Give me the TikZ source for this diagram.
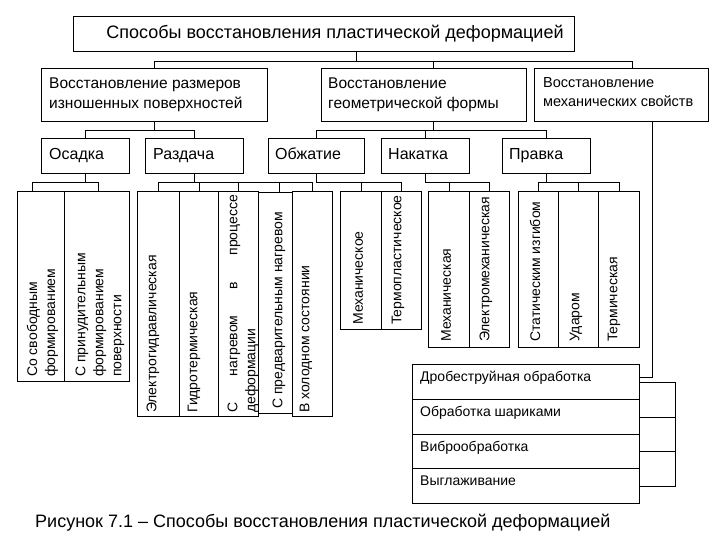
\documentclass[tikz,border=0pt]{standalone}
\usepackage{fontspec}
\setmainfont{Liberation Sans}
\begin{document}
\begin{tikzpicture}[x=1pt,y=-1pt]
\tikzset{
  box/.style={draw, line width=0.9pt, inner sep=0pt, anchor=north west},
  conn/.style={line width=0.9pt},
  htxt/.style={inner sep=0pt, anchor=west, align=left, text depth=0pt, text height=11pt, font=\fontsize{15.5}{20}\selectfont},
  ltxt/.style={inner sep=0pt, anchor=base west, font=\fontsize{16}{19}\selectfont},
  vtxt/.style={inner sep=0pt, anchor=west, rotate=90, align=left, font=\fontsize{14}{18}\selectfont},
  stxt/.style={inner sep=0pt, anchor=base west, font=\fontsize{14}{17}\selectfont},
}
\newcommand\mkbox[5]{\node[box, minimum width={(#4-#2)*1pt}, minimum height={(#5-#3)*1pt}] (#1) at (#2,#3) {};}
\fill[white] (0,0) rectangle (720,540);
\useasboundingbox (0,0) rectangle (720,540);
% boxes
\mkbox{title}{73}{16}{574}{51}
\mkbox{A}{41}{68}{267}{121}
\mkbox{B}{321}{68}{526}{121}
\mkbox{C}{534}{68}{708}{121}
\mkbox{osadka}{41}{138}{129}{173}
\mkbox{razdacha}{145}{138}{243}{173}
\mkbox{obzh}{268}{138}{364}{173}
\mkbox{nakatka}{381}{138}{469}{173}
\mkbox{pravka}{502}{138}{590}{173}
\mkbox{v1}{17}{191}{64}{381}
\mkbox{v2}{64}{191}{129}{381}
\mkbox{v3}{137}{191}{179}{416}
\mkbox{v4}{179}{191}{218}{416}
\mkbox{v5}{218}{191}{258}{416}
\mkbox{v6}{258}{192}{292}{413}
\mkbox{v7}{292}{191}{332}{416}
\mkbox{v8}{340}{191}{381}{329}
\mkbox{v9}{381}{191}{421}{329}
\mkbox{v10}{428}{191}{469}{347}
\mkbox{v11}{469}{191}{509}{347}
\mkbox{v12}{518}{191}{558}{347}
\mkbox{v13}{558}{191}{598}{347}
\mkbox{v14}{598}{191}{639}{347}
\mkbox{d1}{412}{364}{639}{399}
\mkbox{d2}{412}{399}{639}{434}
\mkbox{d3}{412}{434}{639}{468}
\mkbox{d4}{412}{468}{639}{503}
% texts
\node[inner sep=0pt, anchor=base, font=\fontsize{18}{22}\selectfont] (ttitle) at (335,38.3) {Способы восстановления пластической деформацией};
\node[htxt] (tA) at (49,102.8) {Восстановление размеров\\изношенных поверхностей};
\node[htxt] (tB) at (328,102.8) {Восстановление\\геометрической формы};
\node[htxt, text height=10.4pt, font=\fontsize{14.5}{19.5}\selectfont] (tC) at (543,101.5) {Восстановление\\механических свойств};
\node[ltxt] (tos) at (49,159.5) {Осадка};
\node[ltxt] (tra) at (153,159.5) {Раздача};
\node[ltxt] (tob) at (275,159.5) {Обжатие};
\node[ltxt] (tna) at (388,159.5) {Накатка};
\node[ltxt] (tpr) at (509,159.5) {Правка};
\node[vtxt] (tv1) at (42.5,377) {Со свободным\\формированием};
\node[vtxt] (tv2) at (100,377) {С принудительным\\формированием\\поверхности};
\node[vtxt] (tv3) at (153,413) {Электрогидравлическая};
\node[vtxt] (tv4) at (194,413) {Гидротермическая};
\node[vtxt] (tv5) at (243,413) {\makebox[218pt][s]{С нагревом в процессе}\\деформации};
\node[vtxt] (tv6) at (279,409) {С предварительным нагревом};
\node[vtxt] (tv7) at (306,413) {В холодном состоянии};
\node[vtxt] (tv8) at (358,325) {Механическое};
\node[vtxt] (tv9) at (398,325) {Термопластическое};
\node[vtxt] (tv10) at (446,342) {Механическая};
\node[vtxt] (tv11) at (486,342) {Электромеханическая};
\node[vtxt] (tv12) at (535,342) {Статическим изгибом};
\node[vtxt] (tv13) at (576,342) {Ударом};
\node[vtxt] (tv14) at (614,342) {Термическая};
\node[stxt] (td1) at (420,381.5) {Дробеструйная обработка};
\node[stxt] (td2) at (420,416.5) {Обработка шариками};
\node[stxt] (td3) at (420,451) {Виброобработка};
\node[stxt] (td4) at (420,485.5) {Выглаживание};
\node[inner sep=0pt, anchor=base west, font=\fontsize{18}{22}\selectfont] (cap) at (35,527.7) {Рисунок 7.1 – Способы восстановления пластической деформацией};
% connectors
\coordinate (b1) at (0,61);
\coordinate (b2) at (0,130);
\coordinate (b3) at (0,182);
\coordinate (br) at (675,0);
\begin{scope}[conn]
\draw ([xshift=32.5pt]title.south) -- ([xshift=32.5pt]title.south |- b1);
\draw (A.north) |- ([xshift=11pt]C.north |- b1) -- ([xshift=11pt]C.north);
\draw ([xshift=9.5pt]B.north) -- ([xshift=9.5pt]B.north |- b1);
\draw (A.south) -- (A.south |- b2);
\draw (osadka.north) |- (razdacha.north |- b2) -- (razdacha.north);
\draw ([xshift=9.5pt]B.south) -- ([xshift=9.5pt]B.south |- b2);
\draw (obzh.north) |- (pravka.north |- b2) -- (pravka.north);
\draw (nakatka.north) -- (nakatka.north |- b2);
\draw (osadka.south) -- (osadka.south |- b3);
\draw ([xshift=-8.5pt]v1.north) |- ([xshift=1.5pt]v2.north |- b3) -- ([xshift=1.5pt]v2.north);
\draw (razdacha.south) -- (razdacha.south |- b3);
\draw (v3.north) |- (v7.north |- b3) -- (v7.north);
\draw (v4.north) -- (v4.north |- b3);
\draw (v5.north) -- (v5.north |- b3);
\draw ([xshift=4pt]v6.north) -- ([xshift=4pt]v6.north |- b3);
\draw (obzh.south) |- (v9.north |- b3) -- (v9.north);
\draw (v8.north) -- (v8.north |- b3);
\draw (nakatka.south) |- (v11.north |- b3) -- (v11.north);
\draw (v10.north) -- (v10.north |- b3);
\draw (pravka.south) -- (pravka.south |- b3);
\draw (v12.north) |- (v14.north |- b3) -- (v14.north);
\draw (v13.north) -- (v13.north |- b3);
\draw ([xshift=31pt]C.south) |- ([yshift=4.5pt]d1.east);
\draw (d1.east) -- (d1.east -| br) -- (d4.east -| br) -- (d4.east);
\draw (d2.east) -- (d2.east -| br);
\draw (d3.east) -- (d3.east -| br);
\end{scope}
\end{tikzpicture}
\end{document}
